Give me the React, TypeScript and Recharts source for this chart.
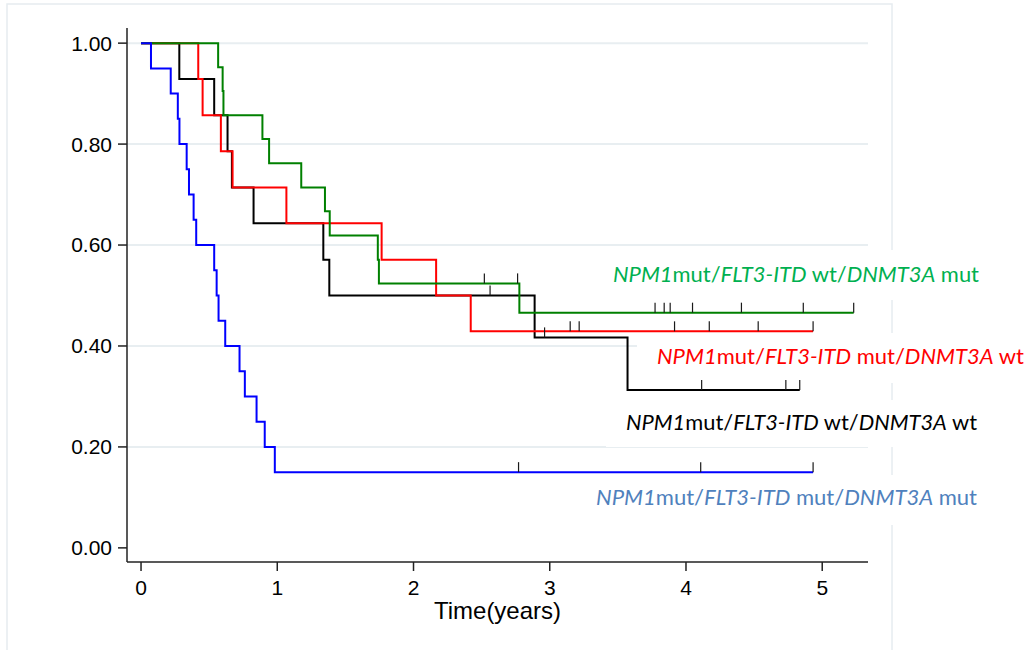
import React from 'react';
import { LineChart, Line, XAxis, YAxis, CartesianGrid } from 'recharts';

// Kaplan–Meier step points (time in years, survival proportion) and censoring times per group.
const wtWtTimes = [0, 0.281, 0.537, 0.635, 0.667, 0.826, 1.338, 1.382, 2.889, 3.571];
const wtWtSurv = [1.0, 0.929, 0.857, 0.786, 0.714, 0.643, 0.571, 0.5, 0.417, 0.313];
const wtWtCensored = [2.562, 2.962, 4.115, 4.733, 4.835];

const mutWtTimes = [0, 0.42, 0.452, 0.586, 0.672, 1.067, 1.766, 2.166, 2.42];
const mutWtSurv = [1.0, 0.929, 0.857, 0.786, 0.714, 0.643, 0.571, 0.5, 0.429];
const mutWtCensored = [3.15, 3.216, 3.916, 4.171, 4.53, 4.933];

const wtMutTimes = [0, 0.566, 0.599, 0.605, 0.891, 0.94, 1.176, 1.35, 1.385, 1.738, 1.746, 2.777];
const wtMutSurv = [1.0, 0.952, 0.905, 0.857, 0.81, 0.762, 0.714, 0.667, 0.619, 0.571, 0.524, 0.466];
const wtMutCensored = [2.52, 2.764, 3.773, 3.84, 3.884, 4.048, 4.407, 4.861, 5.231];

const mutMutTimes = [0, 0.073, 0.218, 0.27, 0.282, 0.335, 0.352, 0.386, 0.405, 0.537, 0.555, 0.569, 0.618, 0.723, 0.762, 0.848, 0.908, 0.982];
const mutMutSurv = [1.0, 0.95, 0.9, 0.85, 0.8, 0.75, 0.7, 0.65, 0.6, 0.55, 0.5, 0.45, 0.4, 0.35, 0.3, 0.25, 0.2, 0.15];
const mutMutCensored = [2.771, 4.108, 4.933];

const xTicks = [0, 1, 2, 3, 4, 5];
const yTicks = [0, 0.2, 0.4, 0.6, 0.8, 1.0];
const gridValues = [0.2, 0.4, 0.6, 0.8, 1.0];

// Group labels: [text, italic] segments
const labelWtMut: [string, boolean][] = [['NPM1', true], ['mut/', false], ['FLT3-ITD', true], [' wt/', false], ['DNMT3A', true], [' mut', false]];
const labelMutWt: [string, boolean][] = [['NPM1', true], ['mut/', false], ['FLT3-ITD', true], [' mut/', false], ['DNMT3A', true], [' wt', false]];
const labelWtWt: [string, boolean][] = [['NPM1', true], ['mut/', false], ['FLT3-ITD', true], [' wt/', false], ['DNMT3A', true], [' wt', false]];
const labelMutMut: [string, boolean][] = [['NPM1', true], ['mut/', false], ['FLT3-ITD', true], [' mut/', false], ['DNMT3A', true], [' mut', false]];

type Row = { t: number; s: number; c?: boolean };

function buildRows(times: number[], surv: number[], censored: number[]): Row[] {
  const rows: Row[] = times.map((t, i) => ({ t, s: surv[i] }));
  censored.forEach((t) => {
    let s = surv[0];
    times.forEach((tt, i) => {
      if (tt <= t) s = surv[i];
    });
    rows.push({ t, s, c: true });
  });
  return rows.sort((a, b) => a.t - b.t);
}

const wtWtRows = buildRows(wtWtTimes, wtWtSurv, wtWtCensored);
const mutWtRows = buildRows(mutWtTimes, mutWtSurv, mutWtCensored);
const wtMutRows = buildRows(wtMutTimes, wtMutSurv, wtMutCensored);
const mutMutRows = buildRows(mutMutTimes, mutMutSurv, mutMutCensored);

const censorTick = (props: any) => {
  const { cx, cy, payload, index } = props;
  if (!payload || !payload.c || cx == null || cy == null) return <g key={`n-${index}`} />;
  return <line key={`c-${index}`} x1={cx} y1={cy} x2={cx} y2={cy - 10} stroke="#1a1a1a" strokeWidth={1.2} />;
};

const labelFont = 'Lato, "Open Sans", sans-serif';
const axisFont = '"Liberation Sans", Arial, sans-serif';

function GroupLabel({ x, y, width, color, parts }: { x: number; y: number; width: number; color: string; parts: [string, boolean][] }) {
  return (
    <text x={x} y={y} fill={color} fontFamily={labelFont} fontSize={21} textLength={width} lengthAdjust="spacingAndGlyphs">
      {parts.map(([txt, it], i) => (
        <tspan key={i} fontStyle={it ? 'italic' : 'normal'} style={{ whiteSpace: 'pre' }}>
          {txt}
        </tspan>
      ))}
    </text>
  );
}

export default function App() {
  return (
    <div style={{ position: 'absolute', left: 0, top: 0, width: 1034, height: 650, background: '#fff' }}>
      <LineChart width={1034} height={650} margin={{ top: 28, right: 166, bottom: 0, left: 0 }}>
        <rect x={7} y={4} width={885} height={700} fill="none" stroke="#e6ecf0" strokeWidth={1.5} />
        <CartesianGrid vertical={false} horizontalValues={gridValues} stroke="#e8eef1" strokeWidth={2} />
        <g>
          <rect x={600} y={250} width={420} height={50} fill="#fff" />
          <rect x={637} y={333} width={397} height={50} fill="#fff" />
          <rect x={606} y={400} width={420} height={47} fill="#fff" />
          <rect x={585} y={475} width={420} height={50} fill="#fff" />
        </g>
        <XAxis
          type="number"
          dataKey="t"
          domain={[-0.103, 5.336]}
          ticks={xTicks}
          allowDataOverflow
          height={88}
          tickSize={9}
          tickMargin={9}
          stroke="#222"
          strokeWidth={1.5}
          tick={{ fill: '#000', fontSize: 21, fontFamily: axisFont }}
          label={{ value: 'Time(years)', position: 'insideBottom', offset: 31, fill: '#000', fontSize: 24, fontFamily: axisFont }}
        />
        <YAxis
          type="number"
          domain={[-0.028, 1.03]}
          ticks={yTicks}
          allowDataOverflow
          width={127}
          tickSize={9}
          tickMargin={6}
          stroke="#222"
          strokeWidth={1.5}
          tickFormatter={(v: number) => v.toFixed(2)}
          tick={{ fill: '#000', fontSize: 21, fontFamily: axisFont }}
        />
        <Line data={wtWtRows} dataKey="s" type="stepAfter" stroke="#000000" strokeWidth={2} dot={censorTick} activeDot={false} isAnimationActive={false} />
        <Line data={mutWtRows} dataKey="s" type="stepAfter" stroke="#ff0000" strokeWidth={2} dot={censorTick} activeDot={false} isAnimationActive={false} />
        <Line data={wtMutRows} dataKey="s" type="stepAfter" stroke="#008000" strokeWidth={2} dot={censorTick} activeDot={false} isAnimationActive={false} />
        <Line data={mutMutRows} dataKey="s" type="stepAfter" stroke="#0000ff" strokeWidth={2} dot={censorTick} activeDot={false} isAnimationActive={false} />
        <GroupLabel x={613} y={282} width={366} color="#00b050" parts={labelWtMut} />
        <GroupLabel x={657} y={364} width={367} color="#ff0000" parts={labelMutWt} />
        <GroupLabel x={626} y={430} width={351} color="#000000" parts={labelWtWt} />
        <GroupLabel x={596} y={505} width={381} color="#4f81bd" parts={labelMutMut} />
      </LineChart>
    </div>
  );
}
